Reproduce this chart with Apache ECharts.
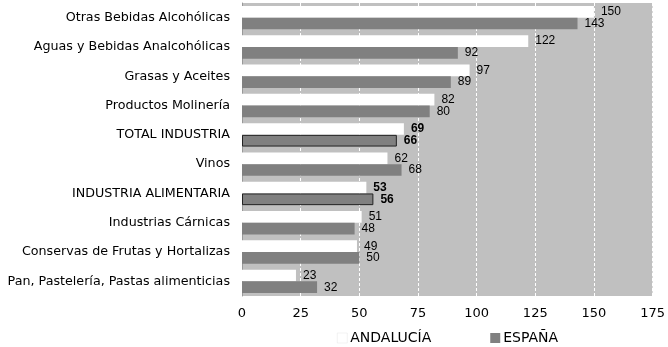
<!DOCTYPE html>
<html>
<head>
<meta charset="utf-8">
<script src="https://cdn.jsdelivr.net/npm/echarts@6/dist/echarts.min.js"></script>
<style>
  html, body { margin: 0; padding: 0; background: #fff; }
  #chart { width: 668px; height: 347px; }
</style>
</head>
<body>
<div id="chart"></div>
<script>
var categories = [
  'Otras Bebidas Alcohólicas',
  'Aguas y Bebidas Analcohólicas',
  'Grasas y Aceites',
  'Productos Molinería',
  'TOTAL INDUSTRIA',
  'Vinos',
  'INDUSTRIA ALIMENTARIA',
  'Industrias Cárnicas',
  'Conservas de Frutas y Hortalizas',
  'Pan, Pastelería, Pastas alimenticias'
];
var andalucia = [150, 122, 97, 82, 69, 62, 53, 51, 49, 23];
var espana = [143, 92, 89, 80, 66, 68, 56, 48, 50, 32];
var highlighted = ['TOTAL INDUSTRIA', 'INDUSTRIA ALIMENTARIA'];

function buildData(values, color, outline) {
  return values.map(function (v, i) {
    var hl = highlighted.indexOf(categories[i]) >= 0;
    return {
      value: v,
      itemStyle: {
        color: color,
        borderColor: '#222',
        borderWidth: hl && outline ? 1 : 0
      },
      label: { fontWeight: hl ? 'bold' : 'normal' }
    };
  });
}

var chartDom = document.getElementById('chart');
var myChart = echarts.init(chartDom);
var option;

option = {
  animation: false,
  textStyle: { fontFamily: 'DejaVu Sans' },
  grid: {
    left: 242,
    right: 15,
    top: 3,
    bottom: 51,
    show: true,
    backgroundColor: '#c0c0c0',
    borderWidth: 0
  },
  legend: {
    left: 337,
    top: 331,
    padding: 0,
    itemWidth: 10,
    itemHeight: 10,
    itemGap: 59,
    icon: 'rect',
    textStyle: { fontSize: 14, color: '#000', fontFamily: 'DejaVu Sans', padding: [0, 0, 0, -2] },
    data: [
      { name: 'ANDALUCÍA', itemStyle: { color: '#fff', borderColor: '#e4e4e4', borderWidth: 0.5 } },
      { name: 'ESPAÑA', itemStyle: { color: '#808080' } }
    ]
  },
  xAxis: {
    type: 'value',
    min: 0,
    max: 175,
    interval: 25,
    axisLine: { show: false },
    axisTick: { show: false },
    axisLabel: { fontSize: 13, color: '#000', margin: 11, fontFamily: 'DejaVu Sans' },
    splitLine: {
      show: true,
      lineStyle: { color: '#fff', type: [3, 2], width: 1 }
    }
  },
  yAxis: {
    type: 'category',
    inverse: true,
    data: categories,
    axisLine: { show: true, lineStyle: { color: '#999', width: 1 } },
    axisTick: { show: false },
    axisLabel: { fontSize: 12.7, color: '#000', margin: 12, fontFamily: 'DejaVu Sans' }
  },
  series: [
    {
      name: 'ANDALUCÍA',
      type: 'bar',
      barWidth: 11.7,
      barGap: '0%',
      data: buildData(andalucia, '#ffffff', false),
      label: {
        show: true,
        position: 'right',
        distance: 7,
        fontSize: 12,
        color: '#000',
        fontFamily: 'Liberation Sans'
      }
    },
    {
      name: 'ESPAÑA',
      type: 'bar',
      barWidth: 11.7,
      barGap: '0%',
      data: buildData(espana, '#808080', true),
      label: {
        show: true,
        position: 'right',
        distance: 7,
        fontSize: 12,
        color: '#000',
        fontFamily: 'Liberation Sans'
      }
    }
  ]
};

option && myChart.setOption(option);
</script>
</body>
</html>
